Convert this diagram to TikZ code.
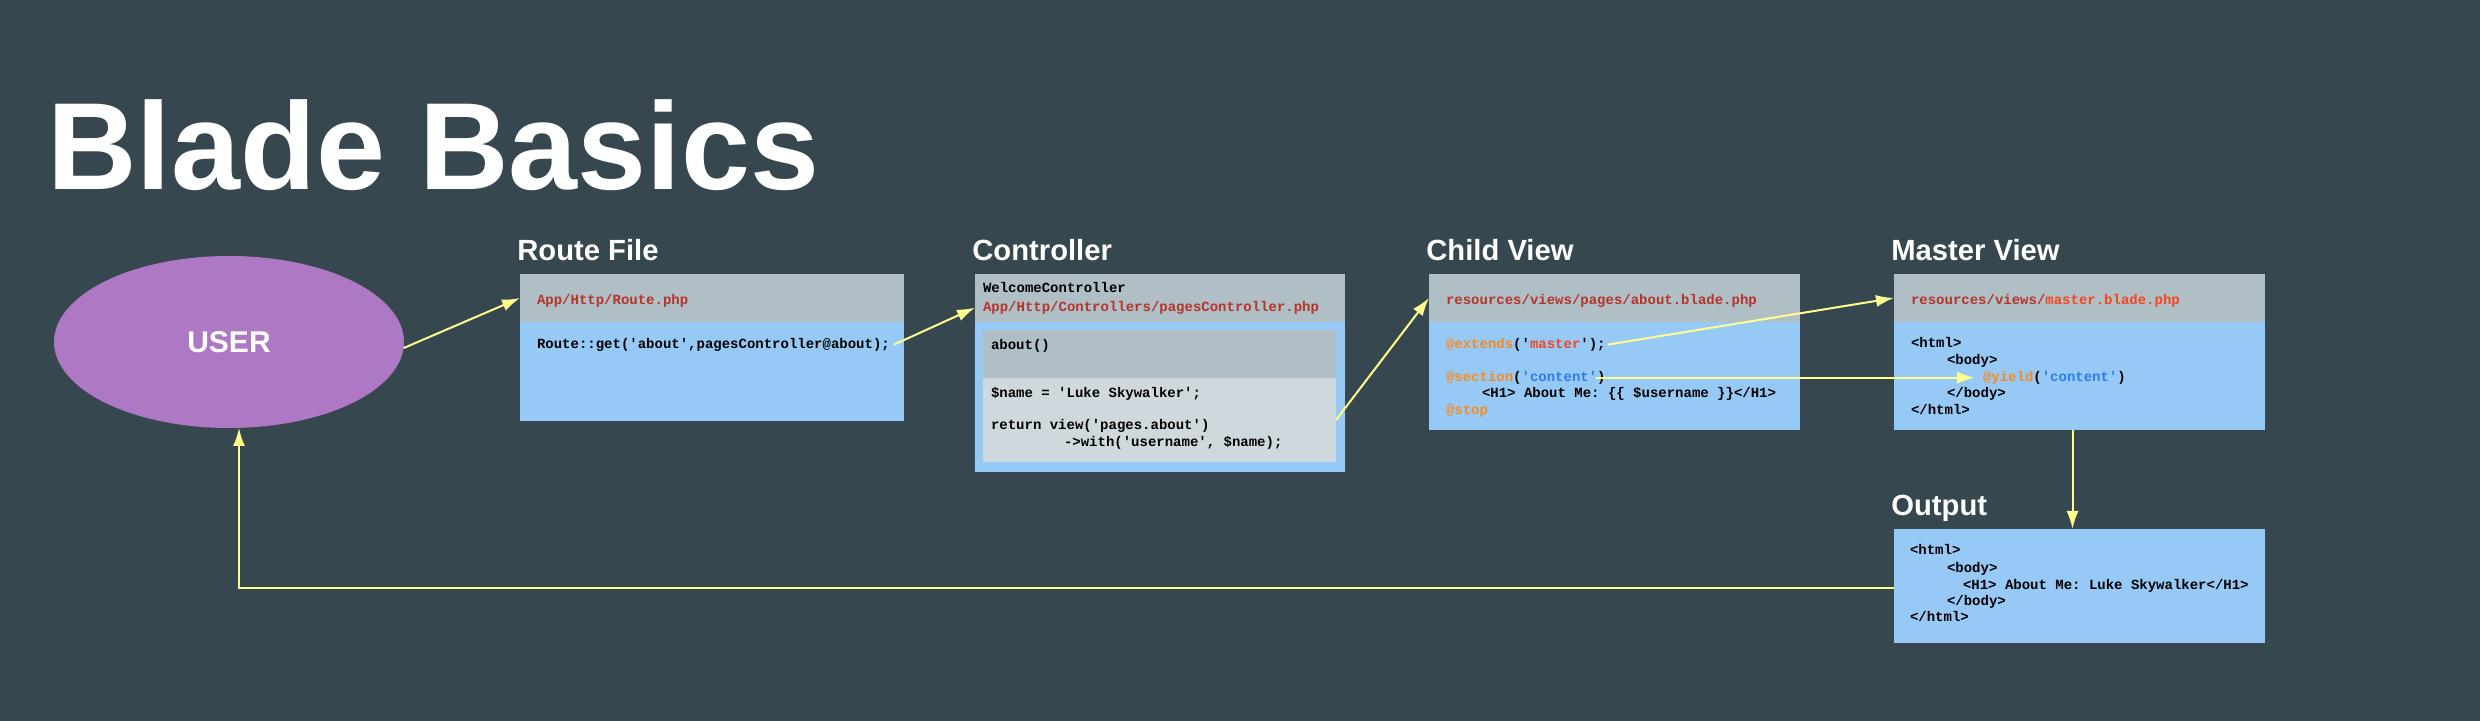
\documentclass[tikz,border=0pt]{standalone}
\usepackage{fontspec}
\setmainfont{Liberation Sans}
\setsansfont{Liberation Sans}
\setmonofont{Liberation Mono}
\usetikzlibrary{arrows.meta,shapes.geometric}
\definecolor{bg}{HTML}{37474F}
\definecolor{hdrgray}{HTML}{B0BEC5}
\definecolor{boxblue}{HTML}{96C9F5}
\definecolor{innerlight}{HTML}{CFD8DC}
\definecolor{userpurple}{HTML}{AE78C4}
\definecolor{pathred}{HTML}{B5352A}
\definecolor{hot}{HTML}{F4471C}
\definecolor{blade}{HTML}{F98B1E}
\definecolor{cblue}{HTML}{2E7BF0}
\definecolor{arrowyellow}{HTML}{FFFF8D}
\newcommand\codefont{\fontsize{7pt}{8.5pt}\selectfont\ttfamily\bfseries}
\newcommand\labfont{\fontsize{14.6pt}{16pt}\selectfont\sffamily\bfseries}
\begin{document}
\begin{tikzpicture}[x=0.5pt,y=-0.5pt,
  bluebox/.style={fill=boxblue, anchor=north west, inner sep=0pt, outer sep=0pt},
  hdrbox/.style={fill=hdrgray, anchor=north west, inner sep=0pt, outer sep=0pt},
  lightbox/.style={fill=innerlight, anchor=north west, inner sep=0pt, outer sep=0pt},
  code/.style={anchor=mid west, inner sep=0pt, outer sep=0pt, font=\codefont, text=black},
  lab/.style={anchor=base west, inner sep=0pt, font=\labfont, text=white},
  arr/.style={draw=arrowyellow, line width=1pt, -{Latex[length=9pt,width=6pt]}}]
\useasboundingbox[fill=bg] (0,0) rectangle (2480,721);

% title
\node[anchor=base west, inner sep=0pt, text=white,
      font=\fontsize{62pt}{62pt}\selectfont\sffamily\bfseries] (title) at (47,190) {Blade Basics};

% user
\node[ellipse, fill=userpurple, minimum width=175pt, minimum height=86pt, inner sep=0pt,
      outer sep=0pt, text=white, font=\fontsize{15pt}{15pt}\selectfont\sffamily\bfseries] (user) at (229,342) {USER};

% Route file
\node[lab] (routelab) at (517,261) {Route File};
\node[bluebox, minimum width=192pt, minimum height=73.5pt] (route) at (520,274) {};
\node[hdrbox, minimum width=192pt, minimum height=24pt] (routehdr) at (520,274) {};
\node[code, text=pathred] (routepath) at (537,299) {App/Http/Route.php};
\node[code] (routecode) at (537,343) {Route::get('about',pagesController@about);};

% Controller
\node[lab] (ctrllab) at (972,261) {Controller};
\node[bluebox, minimum width=185pt, minimum height=99pt] (ctrl) at (975,274) {};
\node[hdrbox, minimum width=185pt, minimum height=24pt] (ctrlhdr) at (975,274) {};
\node[code] (ctrlname) at (983,287) {WelcomeController};
\node[code, text=pathred] (ctrlpath) at (983,306) {App/Http/Controllers/pagesController.php};
\node[hdrbox, minimum width=176.5pt, minimum height=24pt] (inhdr) at (983,330) {};
\node[lightbox, minimum width=176.5pt, minimum height=42pt] (inbody) at (983,378) {};
\node[code] (about) at (991,344) {about()};
\node[code] (nameline) at (991,392) {\$name = 'Luke Skywalker';};
\node[code] (retline) at (991,424) {return view('pages.about')};
\node[code] (withline) at (1064,441) {->with('username', \$name);};

% Child view
\node[lab] (childlab) at (1426,261) {Child View};
\node[bluebox, minimum width=185.5pt, minimum height=78pt] (child) at (1429,274) {};
\node[hdrbox, minimum width=185.5pt, minimum height=24pt] (childhdr) at (1429,274) {};
\node[code, text=pathred] (childpath) at (1446,299) {resources/views/pages/about.blade.php};
\node[code] (extends) at (1446,343) {\textcolor{blade}{@extends}('\textcolor{hot}{master}');};
\node[code] (section) at (1446,376) {\textcolor{blade}{@section}(\textcolor{cblue}{'content'})};
\node[code] (h1) at (1482,392) {<H1> About Me: \{\{ \$username \}\}</H1>};
\node[code, text=blade] (stop) at (1446,409) {@stop};

% Master view
\node[lab] (masterlab) at (1891,261) {Master View};
\node[bluebox, minimum width=185.5pt, minimum height=78pt] (master) at (1894,274) {};
\node[hdrbox, minimum width=185.5pt, minimum height=24pt] (masterhdr) at (1894,274) {};
\node[code, text=pathred] (masterpath) at (1911,299) {resources/views/\textcolor{hot}{master.blade.php}};
\node[code] (mhtml) at (1911,342) {<html>};
\node[code] (mbody) at (1947,359) {<body>};
\node[code] (yield) at (1983,376) {\textcolor{blade}{@yield}(\textcolor{cblue}{'content'})};
\node[code] (mbodyend) at (1947,392) {</body>};
\node[code] (mhtmlend) at (1911,409) {</html>};

% Output
\node[lab] (outlab) at (1891,516) {Output};
\node[bluebox, minimum width=185.5pt, minimum height=57pt] (output) at (1894,529) {};
\node[code] (ohtml) at (1910,549) {<html>};
\node[code] (obody) at (1947,567) {<body>};
\node[code] (oh1) at (1963,584) {<H1> About Me: Luke Skywalker</H1>};
\node[code] (obodyend) at (1947,600) {</body>};
\node[code] (ohtmlend) at (1910,616) {</html>};

% connectors
\draw[arr] (user.-2) -- (routehdr.west);
\draw[arr] ([xshift=2pt]routecode.east) -- (ctrlhdr.west |- ctrlpath);
\draw[arr] (inbody.east) -- (childhdr.west);
\draw[arr] ([xshift=1pt]extends.east) -- (masterhdr.west);
\draw[arr] ([xshift=-5pt]section.east) -- ([xshift=-4pt]yield.west);
\draw[arr] ([xshift=-3.5pt]master.south) -- ([xshift=-3.5pt]output.north);
\draw[arr] ([yshift=-1pt]output.west) -| ([xshift=5pt]user.south);
\end{tikzpicture}
\end{document}
